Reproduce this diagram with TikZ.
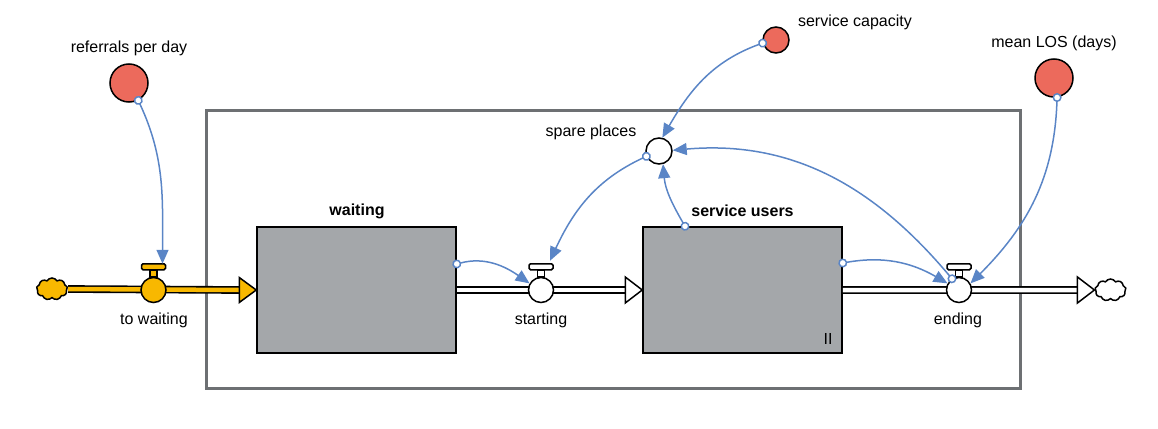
\documentclass[tikz,border=0pt]{standalone}
\usepackage{fontspec}
\setmainfont{Liberation Sans}
\usetikzlibrary{arrows.meta,positioning,shapes.symbols}
\definecolor{linkblue}{HTML}{5A85C6}
\definecolor{auxred}{HTML}{EC6A5C}
\definecolor{stockgray}{HTML}{A4A7AA}
\definecolor{framegray}{HTML}{6D7073}
\definecolor{floworange}{HTML}{F8B800}
\newcommand{\labelsize}{\fontsize{16pt}{19pt}\selectfont}
\tikzset{
  stock/.style={draw, fill=stockgray, line width=1.5pt, minimum width=199pt, minimum height=126pt, inner sep=0},
  aux/.style={circle, draw, line width=1.5pt, fill=auxred, inner sep=0},
  valve/.style={circle, draw, line width=1.5pt, fill=white, minimum size=25pt, inner sep=0},
  valvestem/.style={draw, line width=1.5pt, fill=white, minimum width=7pt, minimum height=7pt, inner sep=0, outer sep=0},
  valvebar/.style={draw, line width=1.5pt, fill=white, rounded corners=1.5pt, minimum width=24pt, minimum height=6pt, inner sep=0, outer sep=0},
  pipe/.style={draw=black, line width=1.6pt, double=white, double distance=4.5pt},
  pipehead/.style={draw, line width=1.5pt, fill=white, line join=miter},
  link/.style={linkblue, line width=1.5pt, shorten <=-4.5pt, {Circle[length=9pt,fill=white]}-{Triangle[length=14pt,width=12pt]}},
  cloudy/.style={cloud, cloud puffs=9, cloud puff arc=120, aspect=1.4, draw, line width=1.5pt, fill=white, minimum width=31pt, minimum height=22pt, inner sep=0}
}
\begin{document}
\begin{tikzpicture}[x=1pt,y=1pt,font=\labelsize]
   \useasboundingbox (0,0) rectangle (1158,-428);
   \draw[framegray, line width=3pt] (206,-110) rectangle (1020,-388);
   \node[stock] (wt) at (356.5,-290) {};
   \node[stock] (su) at (742.5,-290) {};
   \node[font=\labelsize\bfseries] (wtl) at (357,-211) {waiting};
   \node[font=\labelsize\bfseries] (sul) at (742.5,-211) {service users};
   \node (ii) at (828,-339) {II};
   \node[cloudy, fill=floworange] (cl) at (52,-289) {};
   \node[cloudy] (cr) at (1110.5,-290) {};
   \draw[pipe, double=floworange, double distance=4.5pt] (cl.east) -- ([xshift=-17pt]wt.west);
   \draw[pipehead, fill=floworange] ([xshift=-17pt,yshift=12.5pt]wt.west) -- (wt.west) -- ([xshift=-17pt,yshift=-12.5pt]wt.west) -- cycle;
   \draw[pipe] (wt.east) -- ([xshift=-17pt]su.west);
   \draw[pipehead] ([xshift=-17pt,yshift=13pt]su.west) -- (su.west) -- ([xshift=-17pt,yshift=-13pt]su.west) -- cycle;
   \draw[pipe] (su.east) -- ([xshift=-17pt]cr.west);
   \draw[pipehead] ([xshift=-17pt,yshift=13pt]cr.west) -- (cr.west) -- ([xshift=-17pt,yshift=-13pt]cr.west) -- cycle;
   \node[valve, fill=floworange] (tw) at (153.5,-290) {};
   \node[valvestem, fill=floworange, above=0pt of tw] (tws) {};
   \node[valvebar, fill=floworange, above=0pt of tws] (twb) {};
   \node (twl) at (154,-320) {to waiting};
   \node[valve] (st) at (541,-290) {};
   \node[valvestem, above=0pt of st] (sts) {};
   \node[valvebar, above=0pt of sts] (stb) {};
   \node (stl) at (541,-320) {starting};
   \node[valve] (en) at (959,-290) {};
   \node[valvestem, above=0pt of en] (ens) {};
   \node[valvebar, above=0pt of ens] (enb) {};
   \node (enl) at (958,-320) {ending};
   \node[aux, minimum size=38pt] (rpd) at (129,-83) {};
   \node (rpdl) at (129,-48) {referrals per day};
   \node[aux, minimum size=26pt] (sc) at (776,-40) {};
   \node (scl) at (855,-22) {service capacity};
   \node[aux, minimum size=38pt] (los) at (1054,-78) {};
   \node (losl) at (1054,-43) {mean LOS (days)};
   \node[aux, fill=white, minimum size=26pt] (sp) at (659,-151) {};
   \node (spl) at (591,-132) {spare places};
   \draw[link] (rpd.-62) to[out=-65,in=90] ([xshift=9pt]twb.north);
   \draw[link] ([yshift=26pt]wt.east) to[out=15,in=145] (st.150);
   \draw[link] (sp.203) to[out=205,in=65] ([xshift=9pt,yshift=3pt]stb.north);
   \draw[link] (sc.193) to[out=200,in=60] (sp.76);
   \draw[link] ([xshift=-57.5pt]su.north) to[out=120,in=-85] (sp.-73);
   \draw[link] (en.122) to[out=130,in=5] (sp.3);
   \draw[link] ([yshift=27pt]su.east) to[out=10,in=150] (en.150);
   \draw[link] (los.-81) to[out=-92,in=45] (en.30);
\end{tikzpicture}
\end{document}
